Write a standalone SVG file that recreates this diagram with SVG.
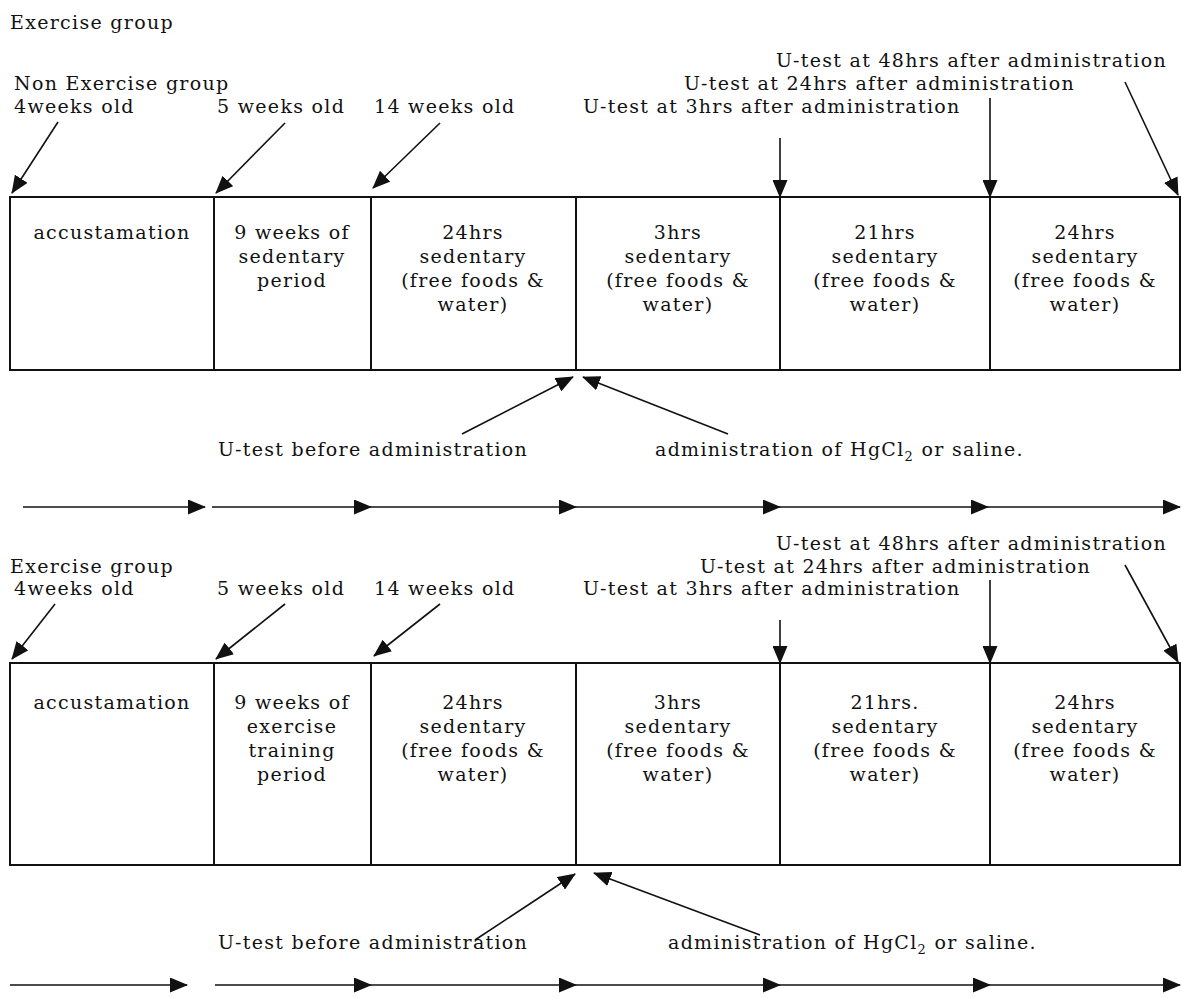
<svg xmlns="http://www.w3.org/2000/svg" width="1181" height="998" viewBox="0 0 1181 998">
<style>
text{font-family:"DejaVu Serif","Liberation Serif",serif;font-size:19px;letter-spacing:1.3px;fill:#111}
.c{text-anchor:middle}
.box{fill:#fff;stroke:#111;stroke-width:2}
.ln{stroke:#111;stroke-width:1.6;fill:none;marker-end:url(#ah)}
.sub{font-size:13px}
</style>
<defs>
<marker id="ah" viewBox="0 0 18 15" refX="17" refY="7.5" markerWidth="18" markerHeight="15" markerUnits="userSpaceOnUse" orient="auto">
<path d="M0,0 L18,7.5 L0,15 z" fill="#111"/>
</marker>
</defs>
<rect width="1181" height="998" fill="#fff"/>

<g id="titles">
<text x="10" y="29">Exercise group</text>
<text x="14" y="90">Non Exercise group</text>
<text x="10" y="573">Exercise group</text>
</g>

<g id="labels-top">
<text x="14" y="113">4weeks old</text>
<text x="217" y="113">5 weeks old</text>
<text x="374" y="113">14 weeks old</text>
<text x="583" y="113">U-test at 3hrs after administration</text>
<text x="684" y="90">U-test at 24hrs after administration</text>
<text x="776" y="67">U-test at 48hrs after administration</text>
<text x="218" y="456">U-test before administration</text>
<text x="655" y="456">administration of HgCl<tspan class="sub" dy="5">2</tspan><tspan dy="-5"> or saline.</tspan></text>
</g>

<g id="row1">
<g id="r1-accustamation"><rect class="box" x="10" y="197" width="204" height="173"/><text class="c" x="112" y="239">accustamation</text></g>
<g id="r1-9weeks"><rect class="box" x="214" y="197" width="157" height="173"/><text class="c" x="292" y="239">9 weeks of</text><text class="c" x="292" y="263">sedentary</text><text class="c" x="292" y="287">period</text></g>
<g id="r1-24hrs"><rect class="box" x="371" y="197" width="205" height="173"/><text class="c" x="473" y="239">24hrs</text><text class="c" x="473" y="263">sedentary</text><text class="c" x="473" y="287">(free foods &amp;</text><text class="c" x="473" y="311">water)</text></g>
<g id="r1-3hrs"><rect class="box" x="576" y="197" width="204" height="173"/><text class="c" x="678" y="239">3hrs</text><text class="c" x="678" y="263">sedentary</text><text class="c" x="678" y="287">(free foods &amp;</text><text class="c" x="678" y="311">water)</text></g>
<g id="r1-21hrs"><rect class="box" x="780" y="197" width="210" height="173"/><text class="c" x="885" y="239">21hrs</text><text class="c" x="885" y="263">sedentary</text><text class="c" x="885" y="287">(free foods &amp;</text><text class="c" x="885" y="311">water)</text></g>
<g id="r1-24hrs-b"><rect class="box" x="990" y="197" width="190" height="173"/><text class="c" x="1085" y="239">24hrs</text><text class="c" x="1085" y="263">sedentary</text><text class="c" x="1085" y="287">(free foods &amp;</text><text class="c" x="1085" y="311">water)</text></g>
</g>

<g id="labels-bottom">
<text x="14" y="595">4weeks old</text>
<text x="217" y="595">5 weeks old</text>
<text x="374" y="595">14 weeks old</text>
<text x="583" y="595">U-test at 3hrs after administration</text>
<text x="700" y="573">U-test at 24hrs after administration</text>
<text x="776" y="550">U-test at 48hrs after administration</text>
<text x="218" y="949">U-test before administration</text>
<text x="668" y="949">administration of HgCl<tspan class="sub" dy="5">2</tspan><tspan dy="-5"> or saline.</tspan></text>
</g>

<g id="row2">
<g id="r2-accustamation"><rect class="box" x="10" y="663" width="204" height="202"/><text class="c" x="112" y="709">accustamation</text></g>
<g id="r2-9weeks"><rect class="box" x="214" y="663" width="157" height="202"/><text class="c" x="292" y="709">9 weeks of</text><text class="c" x="292" y="733">exercise</text><text class="c" x="292" y="757">training</text><text class="c" x="292" y="781">period</text></g>
<g id="r2-24hrs"><rect class="box" x="371" y="663" width="205" height="202"/><text class="c" x="473" y="709">24hrs</text><text class="c" x="473" y="733">sedentary</text><text class="c" x="473" y="757">(free foods &amp;</text><text class="c" x="473" y="781">water)</text></g>
<g id="r2-3hrs"><rect class="box" x="576" y="663" width="204" height="202"/><text class="c" x="678" y="709">3hrs</text><text class="c" x="678" y="733">sedentary</text><text class="c" x="678" y="757">(free foods &amp;</text><text class="c" x="678" y="781">water)</text></g>
<g id="r2-21hrs"><rect class="box" x="780" y="663" width="210" height="202"/><text class="c" x="885" y="709">21hrs.</text><text class="c" x="885" y="733">sedentary</text><text class="c" x="885" y="757">(free foods &amp;</text><text class="c" x="885" y="781">water)</text></g>
<g id="r2-24hrs-b"><rect class="box" x="990" y="663" width="190" height="202"/><text class="c" x="1085" y="709">24hrs</text><text class="c" x="1085" y="733">sedentary</text><text class="c" x="1085" y="757">(free foods &amp;</text><text class="c" x="1085" y="781">water)</text></g>
</g>

<g id="connectors">
<line class="ln" x1="58" y1="122" x2="12" y2="193"/>
<line class="ln" x1="285" y1="123" x2="216" y2="193"/>
<line class="ln" x1="440" y1="123" x2="373" y2="188"/>
<line class="ln" x1="780" y1="138" x2="780" y2="197"/>
<line class="ln" x1="990" y1="98" x2="990" y2="197"/>
<line class="ln" x1="1125" y1="82" x2="1178" y2="195"/>
<line class="ln" x1="462" y1="434" x2="573" y2="377"/>
<line class="ln" x1="728" y1="434" x2="583" y2="377"/>
<line class="ln" x1="23" y1="507" x2="205" y2="507"/>
<line class="ln" x1="212" y1="507" x2="371" y2="507"/>
<line class="ln" x1="371" y1="507" x2="576" y2="507"/>
<line class="ln" x1="576" y1="507" x2="780" y2="507"/>
<line class="ln" x1="780" y1="507" x2="988" y2="507"/>
<line class="ln" x1="988" y1="507" x2="1180" y2="507"/>

<line class="ln" x1="55" y1="604" x2="12" y2="659"/>
<line class="ln" x1="285" y1="604" x2="216" y2="659"/>
<line class="ln" x1="440" y1="604" x2="374" y2="656"/>
<line class="ln" x1="780" y1="620" x2="780" y2="663"/>
<line class="ln" x1="990" y1="580" x2="990" y2="663"/>
<line class="ln" x1="1125" y1="565" x2="1178" y2="662"/>
<line class="ln" x1="475" y1="940" x2="575" y2="874"/>
<line class="ln" x1="760" y1="935" x2="594" y2="873"/>
<line class="ln" x1="10" y1="985" x2="187" y2="985"/>
<line class="ln" x1="215" y1="985" x2="371" y2="985"/>
<line class="ln" x1="371" y1="985" x2="576" y2="985"/>
<line class="ln" x1="576" y1="985" x2="780" y2="985"/>
<line class="ln" x1="780" y1="985" x2="990" y2="985"/>
<line class="ln" x1="990" y1="985" x2="1180" y2="985"/>
</g>
</svg>
